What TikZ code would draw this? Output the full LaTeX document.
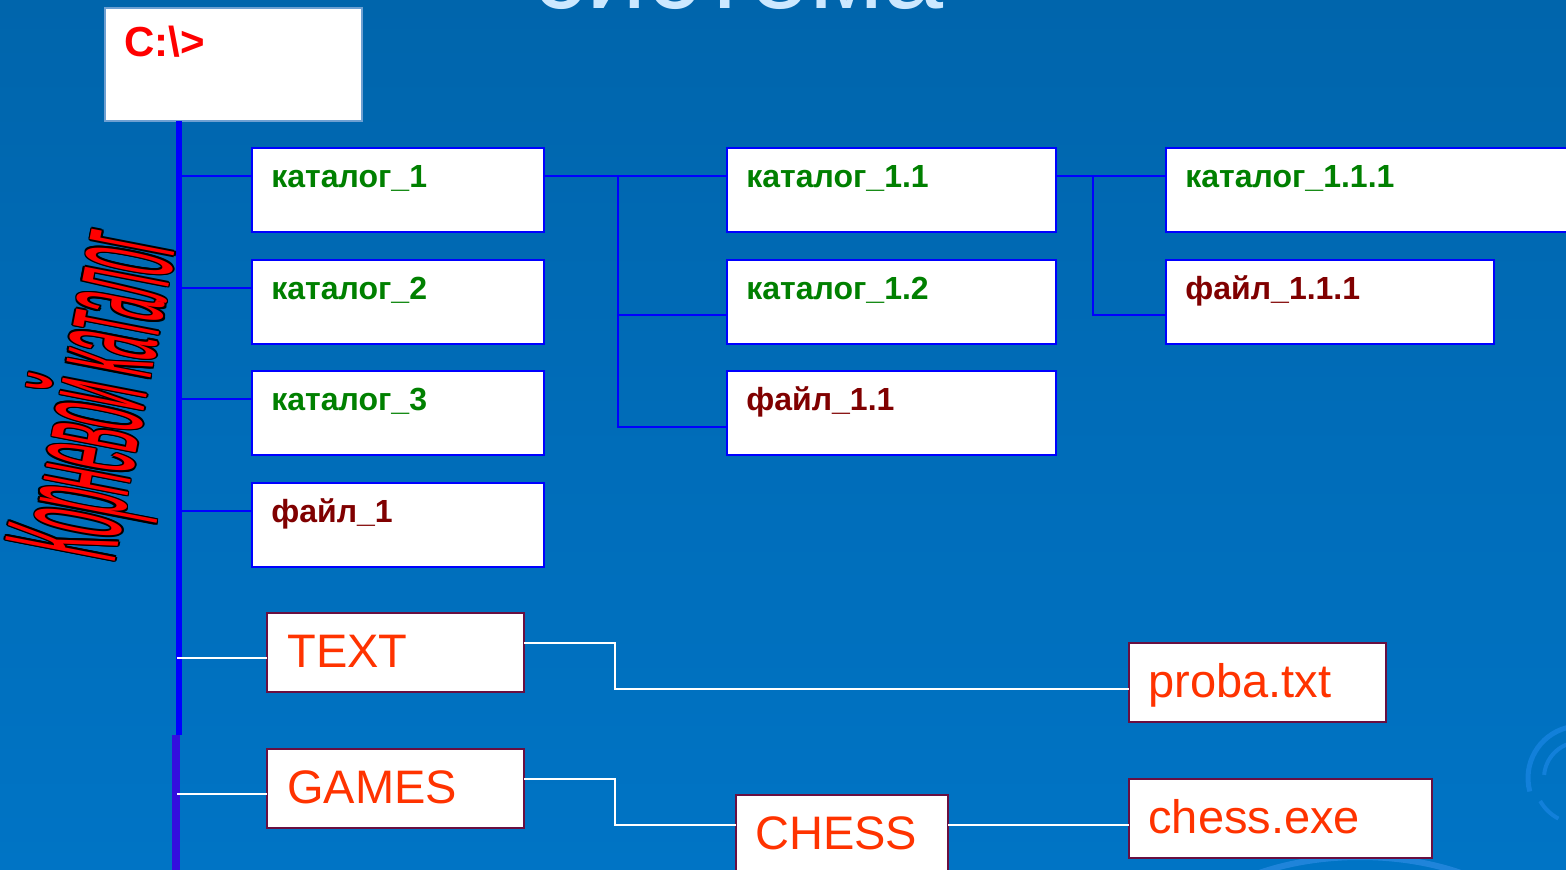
\documentclass[tikz,border=0pt]{standalone}
\usepackage{fontspec}
\setmainfont{Liberation Sans}
\usetikzlibrary{calc}
\definecolor{bgtop}{RGB}{0,101,172}
\definecolor{bgbot}{RGB}{0,116,197}
\definecolor{titleblue}{RGB}{204,232,255}
\definecolor{catgreen}{RGB}{0,128,0}
\definecolor{filered}{RGB}{128,0,0}
\definecolor{orangered}{RGB}{255,51,0}
\definecolor{boxmaroon}{RGB}{105,15,65}
\definecolor{trunklow}{RGB}{52,14,222}
\definecolor{cboxedge}{RGB}{110,160,210}
\definecolor{swirl}{RGB}{18,128,218}
\definecolor{swirlb}{RGB}{45,140,228}
\newcommand\mybox[6]{\node[#6, minimum width={(#4-#2)*0.5pt}, minimum height={(#5-#3)*0.5pt}] (#1) at (#2,#3) {};}
\newcommand\watext{\scalebox{0.33}[1.35]{\fontsize{60}{60}\selectfont Корневой каталог}}
\tikzset{
  bluebox/.style={draw=blue, line width=1.1pt, fill=white, inner sep=0pt, outer sep=0pt, anchor=north west},
  redbox/.style={draw=boxmaroon, line width=1.1pt, fill=white, inner sep=0pt, outer sep=0pt, anchor=north west},
  cboxst/.style={draw=cboxedge, line width=0.7pt, fill=white, inner sep=0pt, outer sep=0pt, anchor=north west},
  bline/.style={draw=blue, line width=1pt},
  wline/.style={draw=white, line width=1pt},
  gtxt/.style={anchor=base west, inner sep=0pt, text=catgreen, font=\fontsize{16}{16}\selectfont\bfseries},
  rtxt/.style={anchor=base west, inner sep=0pt, text=filered, font=\fontsize{16}{16}\selectfont\bfseries},
  otxt/.style={anchor=base west, inner sep=0pt, text=orangered, font=\fontsize{23.5}{23.5}\selectfont},
  ctxt/.style={anchor=base west, inner sep=0pt, text=red, font=\fontsize{21}{21}\selectfont\bfseries},
  wa/.style={rotate=79, inner sep=0pt}
}
\begin{document}
\begin{tikzpicture}[x=0.5pt,y=-0.5pt]
\useasboundingbox (0,0) rectangle (1566,870);
\clip (0,0) rectangle (1566,870);
\shade[top color=bgtop,bottom color=bgbot] (0,0) rectangle (1566,870);
% background swirls
\draw[swirlb, line width=3pt, opacity=0.7] (1360,962) ellipse [x radius=190, y radius=105];
\draw[swirl, line width=2.5pt] (1580,778) ++(165:52) arc[start angle=165, end angle=255, radius=52];
\draw[swirl, line width=2pt] (1580,778) ++(185:36) arc[start angle=185, end angle=265, radius=36];
\draw[swirl, line width=2pt] (1580,778) ++(118:46) arc[start angle=118, end angle=150, radius=46];
% title
\node[anchor=base, inner sep=0pt, text=titleblue, font=\fontsize{54}{54}\selectfont] (title) at (738,9) {система};
% root box
\mybox{cbox}{105}{8}{362}{121}{cboxst}
\node[ctxt] (ctext) at (124,57) {C:\textbackslash>};
% trunk
\coordinate (trunktop) at ($(cbox.south west)+(74,0)$);
\coordinate (trunkmid) at (179,735);
\coordinate (trunklowtop) at (176,735);
\coordinate (trunkend) at (176,875);
\draw[blue, line width=3pt] (trunktop) -- (trunkmid);
\draw[trunklow, line width=3.6pt] (trunklowtop) -- (trunkend);
% rotated label
\foreach \dx/\dy [count=\i] in {-1.6/0,1.6/0,0/-1.6,0/1.6,-1.2/-1.2,1.2/1.2,-1.2/1.2,1.2/-1.2}
  \node[wa, text=black] (wa\i) at (103+\dx,396+\dy) {\watext};
\node[wa, text=red] (walabel) at (103,396) {\watext};
% column 1
\mybox{k1}{252}{148}{544}{232}{bluebox}
\mybox{k2}{252}{260}{544}{344}{bluebox}
\mybox{k3}{252}{371}{544}{455}{bluebox}
\mybox{f1}{252}{483}{544}{567}{bluebox}
\node[gtxt] (tk1) at (271,188) {каталог\_1};
\node[gtxt] (tk2) at (271,300) {каталог\_2};
\node[gtxt] (tk3) at (271,411) {каталог\_3};
\node[rtxt] (tf1) at (271,523) {файл\_1};
% column 2
\mybox{k11}{727}{148}{1056}{232}{bluebox}
\mybox{k12}{727}{260}{1056}{344}{bluebox}
\mybox{f11}{727}{371}{1056}{455}{bluebox}
\node[gtxt] (tk11) at (746,188) {каталог\_1.1};
\node[gtxt] (tk12) at (746,300) {каталог\_1.2};
\node[rtxt] (tf11) at (746,411) {файл\_1.1};
% column 3
\mybox{k111}{1166}{148}{1590}{232}{bluebox}
\mybox{f111}{1166}{260}{1494}{344}{bluebox}
\node[gtxt] (tk111) at (1185,188) {каталог\_1.1.1};
\node[rtxt] (tf111) at (1185,300) {файл\_1.1.1};
% blue connectors
\foreach \n in {k1,k2,k3,f1}
  \draw[bline] ($(\n.north west)+(0,28)$) -- ($(\n.north west)+(-73,28)$);
\draw[bline] ($(k1.north east)+(0,28)$) -- ($(k11.north west)+(0,28)$);
\draw[bline] ($(k1.north east)+(74,28)$) |- ($(f11.north west)+(0,56)$);
\draw[bline] ($(k12.north west)+(0,55)$) -- ($(k12.north west)+(-109,55)$);
\draw[bline] ($(k11.north east)+(0,28)$) -- ($(k111.north west)+(0,28)$);
\draw[bline] ($(k11.north east)+(37,28)$) |- ($(f111.north west)+(0,55)$);
% lower boxes
\mybox{text}{267}{613}{524}{692}{redbox}
\mybox{games}{267}{749}{524}{828}{redbox}
\mybox{proba}{1129}{643}{1386}{722}{redbox}
\mybox{chess}{736}{795}{948}{890}{redbox}
\mybox{exe}{1129}{779}{1432}{858}{redbox}
\node[otxt] (ttext) at (287,667) {TEXT};
\node[otxt] (tgames) at (287,803) {GAMES};
\node[otxt] (tproba) at (1148,697) {proba.txt};
\node[otxt] (tchess) at (755,849) {CHESS};
\node[otxt] (texe) at (1148,833) {chess.exe};
% white connectors
\draw[wline] ($(text.north west)+(0,45)$) -- ($(text.north west)+(-90,45)$);
\draw[wline] ($(games.north west)+(0,45)$) -- ($(games.north west)+(-90,45)$);
\draw[wline] ($(text.north east)+(0,30)$) -- ++(91,0) |- ($(proba.north west)+(0,46)$);
\draw[wline] ($(games.north east)+(0,30)$) -- ++(91,0) |- ($(chess.north west)+(0,30)$);
\draw[wline] ($(chess.north east)+(0,30)$) -- ($(exe.north west)+(0,46)$);
\end{tikzpicture}
\end{document}
